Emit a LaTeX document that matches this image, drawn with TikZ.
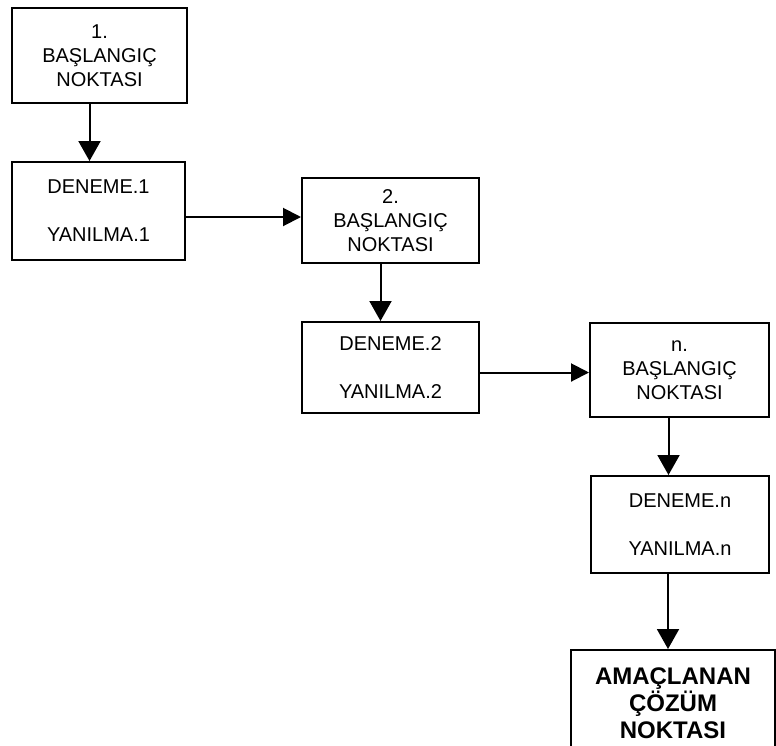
\documentclass[tikz,border=0pt]{standalone}
\usepackage{fontspec}
\setmainfont{Liberation Sans}
\usetikzlibrary{arrows.meta,calc}
\tikzset{
  box/.style={draw, line width=2pt, align=center, inner sep=0pt,
    font=\fontsize{20}{24}\selectfont},
  goal/.style={draw, line width=2pt, align=center, inner sep=0pt,
    font=\fontsize{24}{27}\selectfont\bfseries},
  arr/.style={line width=2pt, -{Triangle[length=20pt,width=22pt]}},
  harr/.style={line width=2pt, -{Triangle[length=18pt,width=18pt]}}
}
\begin{document}
\begin{tikzpicture}[x=1pt,y=-1pt]
  \useasboundingbox (0,0) rectangle (776,745);
  \clip (0,0) rectangle (776,745);

  % start points and trial/error steps
  \node[box, minimum width=175pt, minimum height=95pt] (A1) at (99.5,55.5) {1.\\BAŞLANGIÇ\\NOKTASI};
  \node[box, minimum width=173pt, minimum height=98pt] (D1) at (98.5,211) {DENEME.1\\[24pt]YANILMA.1};
  \node[box, minimum width=177pt, minimum height=85pt] (A2) at (390.5,220.5) {2.\\BAŞLANGIÇ\\NOKTASI};
  \node[box, minimum width=177pt, minimum height=91pt] (D2) at (390.5,367.5) {DENEME.2\\[24pt]YANILMA.2};
  \node[box, minimum width=179pt, minimum height=94pt] (A3) at (679.5,370) {n.\\BAŞLANGIÇ\\NOKTASI};
  \node[box, minimum width=178pt, minimum height=97pt] (Dn) at (680,524.5) {DENEME.n\\[24pt]YANILMA.n};
  \node[goal, minimum width=204pt, minimum height=106pt] (G) at (673,703) {AMAÇLANAN\\ÇÖZÜM\\NOKTASI};

  % connectors
  \draw[arr] ([xshift=-10pt]A1.south) -- ([xshift=-10pt]A1.south |- D1.north);
  \draw[harr] ([yshift=-6pt]D1.east) -- ([yshift=-6pt]D1.east -| A2.west);
  \draw[arr] ([xshift=-10pt]A2.south) -- ([xshift=-10pt]A2.south |- D2.north);
  \draw[harr] ([yshift=-5pt]D2.east) -- ([yshift=-5pt]D2.east -| A3.west);
  \draw[arr] ([xshift=-11pt]A3.south) -- ([xshift=-11pt]A3.south |- Dn.north);
  \draw[arr] ([xshift=-12pt]Dn.south) -- ([xshift=-12pt]Dn.south |- G.north);
\end{tikzpicture}
\end{document}
